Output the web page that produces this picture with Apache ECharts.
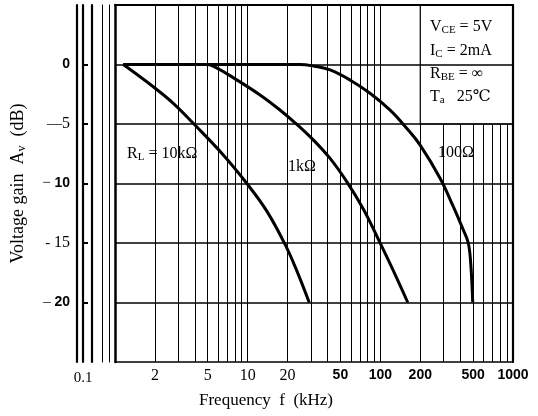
<!DOCTYPE html>
<html><head><meta charset="utf-8">
<script src="https://cdn.jsdelivr.net/npm/echarts@6/dist/echarts.min.js"></script>
<style>html,body{margin:0;padding:0;background:#fff}#c{width:538px;height:416px}</style>
</head><body><div id="c"></div>
<script>
// Data (frequency in kHz, gain in dB)
const freq10k = [1.155, 1.944, 2.75, 3.89, 6.55, 9.83, 13.9, 19.1, 23.4, 29.1];
const gain10k = [0, -1.87, -3.26, -4.94, -7.6, -9.98, -12.3, -15.1, -17.3, -20];
const freq1k = [1.155, 4.77, 5.5, 8.27, 12.4, 17.5, 22.1, 31.2, 41.8, 55.8, 74.4, 97.7, 125, 161];
const gain1k = [0, 0, -0.13, -1.29, -2.56, -3.82, -4.77, -6.33, -7.89, -9.84, -12.14, -14.8, -17.3, -20];
const freq100 = [1.155, 24.8, 32, 41.8, 59, 83.6, 118, 158, 199, 282, 355, 422, 460, 480, 497];
const gain100 = [0, 0, -0.15, -0.46, -1.3, -2.42, -3.82, -5.36, -6.76, -9.56, -11.95, -13.9, -15.0, -16.7, -20];

const xGridValues = [2,3,4,5,6,7,8,9,10,20,30,40,50,60,70,80,90,100,200,300,400,500,600,700,800,900,1000];
const xTickValues = [2,5,10,20,50,100,200,500,1000];
const xTickBold = [false,false,false,false,true,true,true,true,true];
const yTickValues = [0,-5,-10,-15,-20];
const yTickLabels = ['0','—5','− 10','- 15','– 20'];
const yTickBold = [true,false,true,false,true];
const curveLabels = ['R{sub|L} = 10k\u03A9', '1k\u03A9', '100\u03A9'];
const conditions = ['V{sub|CE} = 5V', 'I{sub|C} = 2mA', 'R{sub|BE} = \u221E', 'T{sub|a}   25\u2103'];

const SERIF = '"Liberation Serif","DejaVu Serif",serif';
const SANS = '"Liberation Sans",Arial,sans-serif';

function zip(a, b) { return a.map((v, i) => [v, b[i]]); }

const chart = echarts.init(document.getElementById('c'), null, {renderer: 'canvas'});

function decoAxis(offset, width, pos) {
  return {
    type: 'value', min: -25, max: 5, interval: 5, position: pos || 'left', offset: offset, z: 5,
    axisLine: {show: true, onZero: false, lineStyle: {color: '#000', width: width}},
    axisTick: {show: false}, axisLabel: {show: false}, splitLine: {show: false}
  };
}

const curveStyle = {color: '#000', width: 3};
function curve(name, f, g) {
  return {
    name: name, type: 'line', xAxisIndex: 0, yAxisIndex: 0, data: zip(f, g),
    smooth: 0.4, symbol: 'none', lineStyle: curveStyle, z: 3
  };
}

const serifRich = {
  sub: {fontFamily: SERIF, fontSize: 11, fill: '#000', color: '#000', verticalAlign: 'bottom', padding: [6, 0, 0, 0]}
};

const option = {
  animation: false,
  backgroundColor: '#fff',
  grid: {left: 115, right: 25, top: 5, bottom: 54, containLabel: false},
  xAxis: [
    {
      type: 'log', logBase: 10, min: 1, max: 1000, position: 'bottom',
      axisLine: {show: true, onZero: false, lineStyle: {color: '#000', width: 1.5}},
      axisTick: {show: false, customValues: xGridValues},
      splitLine: {show: true, lineStyle: {color: '#000', width: 1}},
      axisLabel: {
        customValues: xTickValues, margin: 6,
        formatter: function (v) {
          const i = xTickValues.indexOf(v);
          if (i < 0) return '';
          return (xTickBold[i] ? '{b|' : '{s|') + v + '}';
        },
        rich: {
          b: {fontFamily: SANS, fontWeight: 'bold', fontSize: 14, color: '#000'},
          s: {fontFamily: SERIF, fontSize: 16, color: '#000'}
        }
      }
    },
    {
      type: 'log', logBase: 10, min: 1, max: 1000, position: 'top', z: 5,
      axisLine: {show: true, onZero: false, lineStyle: {color: '#000', width: 2}},
      axisTick: {show: false}, axisLabel: {show: false}, splitLine: {show: false}
    }
  ],
  yAxis: [
    {
      type: 'value', min: -25, max: 5, interval: 5, position: 'left', offset: 32, z: 5,
      name: 'Voltage gain  A{sub|v}  (dB)', nameLocation: 'middle', nameGap: 55, nameRotate: 90,
      nameTextStyle: {fontFamily: SERIF, fontSize: 18, color: '#000',
        rich: {sub: {fontFamily: SERIF, fontSize: 12, color: '#000', padding: [8, 0, 0, 0]}}},
      axisLine: {show: true, onZero: false, lineStyle: {color: '#000', width: 2.2}},
      axisTick: {show: true, inside: true, length: 5, customValues: yTickValues, lineStyle: {color: '#000', width: 2}},
      splitLine: {show: true, lineStyle: {color: '#000', width: 1.5}},
      axisLabel: {
        customValues: yTickValues, margin: 13,
        formatter: function (v) {
          const i = yTickValues.indexOf(v);
          if (i < 0) return '';
          const m = yTickLabels[i].match(/^(\D*)(\d+)$/);
          let out = '';
          if (m[1]) out += '{d|' + m[1] + '}';
          out += (yTickBold[i] ? '{b|' : '{s|') + m[2] + '}';
          return out;
        },
        rich: {
          b: {fontFamily: SANS, fontWeight: 'bold', fontSize: 14, color: '#000'},
          s: {fontFamily: SERIF, fontSize: 16, color: '#000'},
          d: {fontFamily: SERIF, fontSize: 15, color: '#000'}
        }
      }
    },
    decoAxis(0, 2.5),
    decoAxis(6, 1),
    decoAxis(13, 1),
    decoAxis(23, 2.2),
    decoAxis(38, 2.2),
    decoAxis(0, 2.2, 'right')
  ],
  series: [
    Object.assign(curve('10k', freq10k, gain10k), {
      markArea: {
        silent: true,
        itemStyle: {color: '#fff', borderColor: '#000', borderWidth: 1.2},
        data: [[{coord: [200, 5]}, {coord: [1000, -5]}]]
      }
    }),
    curve('1k', freq1k, gain1k),
    curve('100', freq100, gain100)
  ],
  graphic: [
    {type: 'text', z: 100, x: 127, y: 154, style: {text: curveLabels[0], font: '16px ' + SERIF, fill: '#000', verticalAlign: 'middle', rich: serifRich}},
    {type: 'text', z: 100, x: 288, y: 167, style: {text: curveLabels[1], font: '16px ' + SERIF, fill: '#000', verticalAlign: 'middle'}},
    {type: 'text', z: 100, x: 438, y: 153, style: {text: curveLabels[2], font: '16px ' + SERIF, fill: '#000', verticalAlign: 'middle'}},
    {type: 'text', z: 100, x: 430, y: 27, style: {text: conditions[0], font: '16px ' + SERIF, fill: '#000', verticalAlign: 'middle', rich: serifRich}},
    {type: 'text', z: 100, x: 430, y: 51, style: {text: conditions[1], font: '16px ' + SERIF, fill: '#000', verticalAlign: 'middle', rich: serifRich}},
    {type: 'text', z: 100, x: 430, y: 74, style: {text: conditions[2], font: '16px ' + SERIF, fill: '#000', verticalAlign: 'middle', rich: serifRich}},
    {type: 'text', z: 100, x: 430, y: 97, style: {text: conditions[3], font: '16px ' + SERIF, fill: '#000', verticalAlign: 'middle', rich: serifRich}},
    {type: 'text', z: 100, x: 83, y: 378, style: {text: '0.1', font: '15px ' + SERIF, fill: '#000', align: 'center', verticalAlign: 'middle'}},
    {type: 'text', z: 100, x: 266, y: 401, style: {text: 'Frequency  f  (kHz)', font: '17px ' + SERIF, fill: '#000', align: 'center', verticalAlign: 'middle'}}
  ]
};
chart.setOption(option);
</script></body></html>
